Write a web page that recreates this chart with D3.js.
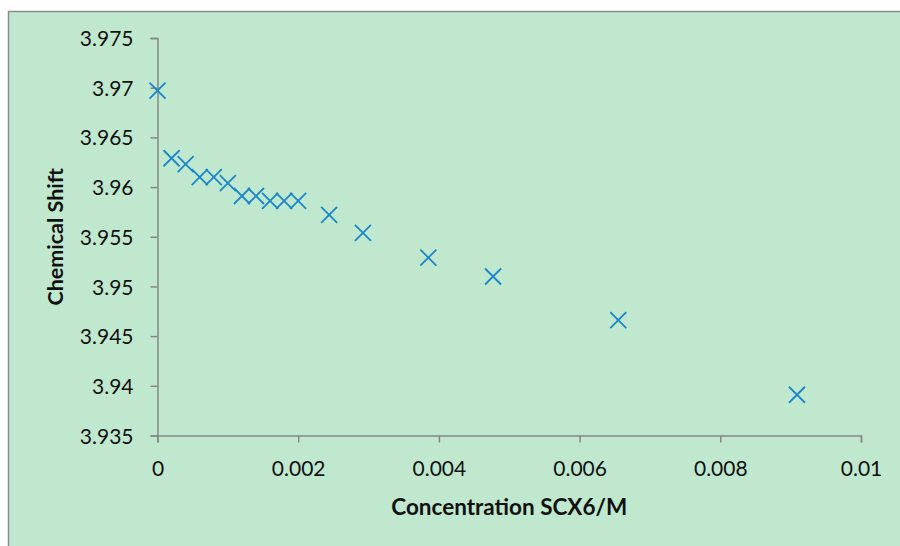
<!DOCTYPE html>
<html>
<head>
<meta charset="utf-8">
<script src="https://cdn.jsdelivr.net/npm/d3@7"></script>
<style>
  html, body { margin: 0; padding: 0; background: #ffffff; }
  svg { display: block; }
</style>
</head>
<body>
<script>
// ---- data ----
const concentration = [0, 0.0002, 0.0004, 0.0006, 0.0008, 0.0010, 0.0012, 0.0014, 0.0016, 0.0018, 0.0020,
                       0.00244, 0.00292, 0.00385, 0.00477, 0.00655, 0.00909];
const chemicalShift = [3.9697, 3.9629, 3.9623, 3.9610, 3.9610, 3.9604, 3.9591, 3.9591, 3.9586, 3.9586, 3.9586,
                       3.9572, 3.9554, 3.9529, 3.9510, 3.9466, 3.9391];
const xTicks = [0, 0.002, 0.004, 0.006, 0.008, 0.01];
const xTickLabels = ["0", "0.002", "0.004", "0.006", "0.008", "0.01"];
const yTicks = [3.935, 3.94, 3.945, 3.95, 3.955, 3.96, 3.965, 3.97, 3.975];
const yTickLabels = ["3.935", "3.94", "3.945", "3.95", "3.955", "3.96", "3.965", "3.97", "3.975"];
const xTitle = "Concentration SCX6/M";
const yTitle = "Chemical Shift";

const W = 900, H = 546;
const svg = d3.select("body").append("svg").attr("width", W).attr("height", H);

// chart area background with border (left/top visible)
svg.append("rect").attr("x", 8.5).attr("y", 11.5).attr("width", W + 10).attr("height", H + 10)
  .attr("fill", "#c0e8cf").attr("stroke", "#8c8c8c").attr("stroke-width", 1.5);

const x = d3.scaleLinear().domain([0, 0.01]).range([157.5, 861]);
const y = d3.scaleLinear().domain([3.935, 3.975]).range([435.5, 38]);

const font = "Lato, 'Open Sans', sans-serif";
const axisColor = "#868686";

// y axis
const yAxis = svg.append("g").attr("transform", `translate(${x(0)},0)`)
  .call(d3.axisLeft(y).tickValues(yTicks).tickSize(7).tickFormat((d, i) => yTickLabels[i]));
yAxis.select(".domain").attr("stroke", axisColor).attr("stroke-width", 1.5);
yAxis.selectAll(".tick line").attr("stroke", axisColor).attr("stroke-width", 1.5);
yAxis.selectAll(".tick text").attr("x", -24).attr("dy", "0.36em")
  .attr("font-family", font).attr("font-size", 21).attr("fill", "#111");

// x axis
const xAxis = svg.append("g").attr("transform", `translate(0,${y(3.935)})`)
  .call(d3.axisBottom(x).tickValues(xTicks).tickSize(7).tickFormat((d, i) => xTickLabels[i]));
xAxis.select(".domain").attr("stroke", axisColor).attr("stroke-width", 1.5);
xAxis.selectAll(".tick line").attr("stroke", axisColor).attr("stroke-width", 1.5);
xAxis.selectAll(".tick text").attr("y", 26).attr("dy", "0.71em")
  .attr("font-family", font).attr("font-size", 21).attr("fill", "#111");

yAxis.attr("font-size", null).attr("font-family", null);
xAxis.attr("font-size", null).attr("font-family", null);

// titles
svg.append("text").attr("x", (x(0) + x(0.01)) / 2).attr("y", 515)
  .attr("text-anchor", "middle").attr("font-family", font).attr("font-weight", "bold")
  .attr("font-size", 22.5).attr("fill", "#111").text(xTitle);

svg.append("text").attr("transform", `translate(63,${(y(3.935) + y(3.975)) / 2}) rotate(-90)`)
  .attr("text-anchor", "middle").attr("font-family", font).attr("font-weight", "bold")
  .attr("font-size", 21.5).attr("fill", "#111").text(yTitle);

// markers (X shape)
const s = 8;
const pts = concentration.map((c, i) => [c, chemicalShift[i]]);
svg.append("g").selectAll("path").data(pts).join("path")
  .attr("d", d => {
    const px = x(d[0]), py = y(d[1]);
    return `M${px - s},${py - s}L${px + s},${py + s}M${px - s},${py + s}L${px + s},${py - s}`;
  })
  .attr("stroke", "#1b86c8").attr("stroke-width", 1.8).attr("fill", "none");
</script>
</body>
</html>
